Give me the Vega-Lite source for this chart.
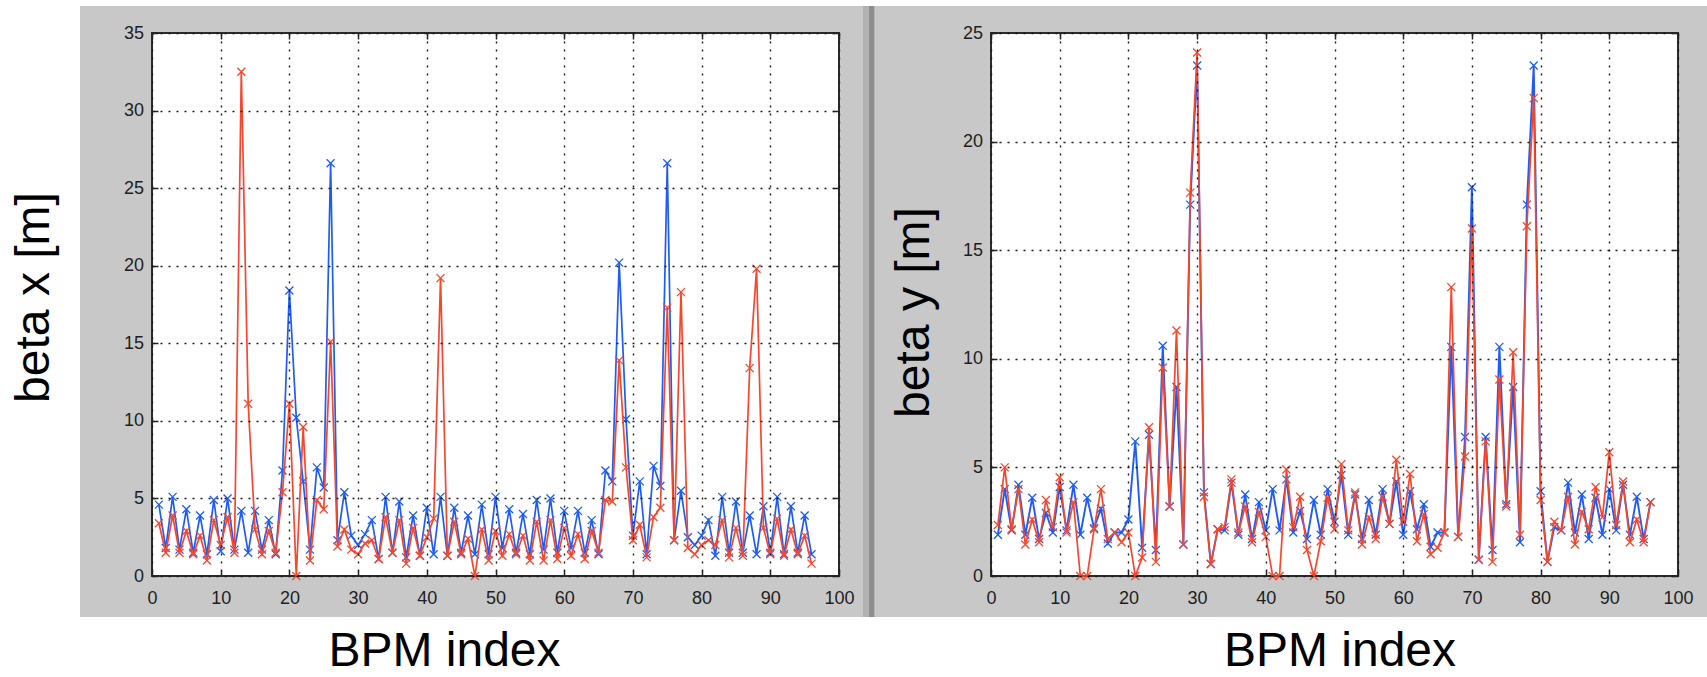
{
  "$schema": "https://vega.github.io/schema/vega-lite/v6.json",
  "autosize": "none",
  "padding": {"left": 152, "top": 33, "right": 1555, "bottom": 644},
  "background": "white",
  "bounds": "flush",
  "spacing": 152,
  "datasets": {
    "bpm": [
      {"i":1,"bx_b":4.6,"bx_r":3.4,"by_b":1.9,"by_r":2.35},
      {"i":2,"bx_b":1.8,"bx_r":1.5,"by_b":4.0,"by_r":5.0},
      {"i":3,"bx_b":5.1,"bx_r":3.9,"by_b":2.1,"by_r":2.15},
      {"i":4,"bx_b":1.7,"bx_r":1.5,"by_b":4.2,"by_r":4.0},
      {"i":5,"bx_b":4.3,"bx_r":2.9,"by_b":1.9,"by_r":1.45},
      {"i":6,"bx_b":1.5,"bx_r":1.4,"by_b":3.6,"by_r":2.6},
      {"i":7,"bx_b":3.9,"bx_r":2.6,"by_b":1.7,"by_r":1.55},
      {"i":8,"bx_b":1.4,"bx_r":1.0,"by_b":2.9,"by_r":3.5},
      {"i":9,"bx_b":4.9,"bx_r":3.6,"by_b":2.0,"by_r":2.25},
      {"i":10,"bx_b":1.6,"bx_r":2.0,"by_b":4.1,"by_r":4.55},
      {"i":11,"bx_b":5.0,"bx_r":3.8,"by_b":2.1,"by_r":2.0},
      {"i":12,"bx_b":1.7,"bx_r":1.5,"by_b":4.2,"by_r":3.4},
      {"i":13,"bx_b":4.2,"bx_r":32.5,"by_b":1.9,"by_r":0.0},
      {"i":14,"bx_b":1.5,"bx_r":11.1,"by_b":3.6,"by_r":0.0},
      {"i":15,"bx_b":4.2,"bx_r":3.0,"by_b":2.2,"by_r":2.15},
      {"i":16,"bx_b":1.7,"bx_r":1.4,"by_b":3.1,"by_r":4.0},
      {"i":17,"bx_b":3.6,"bx_r":2.9,"by_b":1.5,"by_r":1.7},
      {"i":18,"bx_b":1.4,"bx_r":1.5,"by_b":2.0,"by_r":2.0},
      {"i":19,"bx_b":6.8,"bx_r":5.4,"by_b":2.0,"by_r":1.55},
      {"i":20,"bx_b":18.4,"bx_r":11.1,"by_b":2.6,"by_r":2.0},
      {"i":21,"bx_b":10.2,"bx_r":0.0,"by_b":6.2,"by_r":0.0},
      {"i":22,"bx_b":6.1,"bx_r":9.6,"by_b":1.3,"by_r":0.85},
      {"i":23,"bx_b":1.7,"bx_r":1.0,"by_b":6.5,"by_r":6.85},
      {"i":24,"bx_b":7.0,"bx_r":4.9,"by_b":1.2,"by_r":0.65},
      {"i":25,"bx_b":5.7,"bx_r":4.3,"by_b":10.6,"by_r":9.6},
      {"i":26,"bx_b":26.6,"bx_r":15.1,"by_b":3.2,"by_r":3.2},
      {"i":27,"bx_b":2.3,"bx_r":1.9,"by_b":8.7,"by_r":11.3},
      {"i":28,"bx_b":5.4,"bx_r":3.0,"by_b":1.45,"by_r":1.45},
      {"i":29,"bx_b":2.6,"bx_r":1.7,"by_b":17.1,"by_r":17.65},
      {"i":30,"bx_b":2.0,"bx_r":1.4,"by_b":23.5,"by_r":24.1},
      {"i":31,"bx_b":2.7,"bx_r":2.1,"by_b":3.85,"by_r":3.65},
      {"i":32,"bx_b":3.6,"bx_r":2.3,"by_b":0.55,"by_r":0.55},
      {"i":33,"bx_b":1.1,"bx_r":1.1,"by_b":2.15,"by_r":2.15},
      {"i":34,"bx_b":5.1,"bx_r":3.8,"by_b":2.1,"by_r":2.25},
      {"i":35,"bx_b":1.5,"bx_r":1.5,"by_b":4.3,"by_r":4.45},
      {"i":36,"bx_b":4.8,"bx_r":3.6,"by_b":1.9,"by_r":2.0},
      {"i":37,"bx_b":1.2,"bx_r":0.8,"by_b":3.75,"by_r":3.2},
      {"i":38,"bx_b":3.9,"bx_r":3.1,"by_b":1.7,"by_r":1.55},
      {"i":39,"bx_b":1.3,"bx_r":1.3,"by_b":3.4,"by_r":2.95},
      {"i":40,"bx_b":4.4,"bx_r":2.5,"by_b":2.1,"by_r":1.8},
      {"i":41,"bx_b":1.4,"bx_r":3.7,"by_b":4.0,"by_r":0.0},
      {"i":42,"bx_b":5.1,"bx_r":19.2,"by_b":2.1,"by_r":0.0},
      {"i":43,"bx_b":1.3,"bx_r":1.3,"by_b":4.45,"by_r":4.9},
      {"i":44,"bx_b":4.4,"bx_r":3.5,"by_b":2.0,"by_r":2.25},
      {"i":45,"bx_b":1.5,"bx_r":1.4,"by_b":3.0,"by_r":3.65},
      {"i":46,"bx_b":3.9,"bx_r":2.4,"by_b":1.7,"by_r":1.2},
      {"i":47,"bx_b":1.4,"bx_r":0.0,"by_b":3.5,"by_r":0.0},
      {"i":48,"bx_b":4.6,"bx_r":3.0,"by_b":1.9,"by_r":1.6},
      {"i":49,"bx_b":1.4,"bx_r":1.0,"by_b":4.0,"by_r":3.6},
      {"i":50,"bx_b":5.1,"bx_r":2.9,"by_b":2.5,"by_r":2.15},
      {"i":51,"bx_b":1.8,"bx_r":1.3,"by_b":4.65,"by_r":5.15},
      {"i":52,"bx_b":4.3,"bx_r":2.7,"by_b":1.9,"by_r":2.1},
      {"i":53,"bx_b":1.5,"bx_r":1.4,"by_b":3.75,"by_r":3.85},
      {"i":54,"bx_b":4.0,"bx_r":2.6,"by_b":1.7,"by_r":1.45},
      {"i":55,"bx_b":1.4,"bx_r":1.0,"by_b":3.5,"by_r":2.7},
      {"i":56,"bx_b":4.9,"bx_r":3.5,"by_b":1.9,"by_r":1.7},
      {"i":57,"bx_b":1.7,"bx_r":1.0,"by_b":4.0,"by_r":3.65},
      {"i":58,"bx_b":5.0,"bx_r":3.6,"by_b":2.4,"by_r":2.4},
      {"i":59,"bx_b":1.5,"bx_r":1.1,"by_b":4.35,"by_r":5.35},
      {"i":60,"bx_b":4.2,"bx_r":3.1,"by_b":1.9,"by_r":2.5},
      {"i":61,"bx_b":1.8,"bx_r":1.3,"by_b":3.9,"by_r":4.7},
      {"i":62,"bx_b":4.2,"bx_r":2.7,"by_b":2.15,"by_r":1.6},
      {"i":63,"bx_b":1.5,"bx_r":1.1,"by_b":3.3,"by_r":2.85},
      {"i":64,"bx_b":3.6,"bx_r":2.9,"by_b":1.35,"by_r":1.0},
      {"i":65,"bx_b":1.4,"bx_r":1.5,"by_b":2.0,"by_r":1.3},
      {"i":66,"bx_b":6.8,"bx_r":4.9,"by_b":2.0,"by_r":2.0},
      {"i":67,"bx_b":6.1,"bx_r":4.8,"by_b":10.55,"by_r":13.3},
      {"i":68,"bx_b":20.2,"bx_r":13.9,"by_b":1.8,"by_r":1.8},
      {"i":69,"bx_b":10.1,"bx_r":7.0,"by_b":6.4,"by_r":5.5},
      {"i":70,"bx_b":2.6,"bx_r":2.3,"by_b":17.9,"by_r":16.0},
      {"i":71,"bx_b":6.1,"bx_r":3.3,"by_b":0.75,"by_r":0.75},
      {"i":72,"bx_b":1.4,"bx_r":1.2,"by_b":6.4,"by_r":6.2},
      {"i":73,"bx_b":7.1,"bx_r":3.8,"by_b":1.2,"by_r":0.65},
      {"i":74,"bx_b":5.8,"bx_r":4.4,"by_b":10.55,"by_r":9.05},
      {"i":75,"bx_b":26.6,"bx_r":17.3,"by_b":3.3,"by_r":3.2},
      {"i":76,"bx_b":2.3,"bx_r":2.3,"by_b":8.7,"by_r":10.3},
      {"i":77,"bx_b":5.5,"bx_r":18.3,"by_b":1.55,"by_r":1.9},
      {"i":78,"bx_b":2.5,"bx_r":1.8,"by_b":17.1,"by_r":16.1},
      {"i":79,"bx_b":2.0,"bx_r":1.4,"by_b":23.5,"by_r":22.0},
      {"i":80,"bx_b":2.6,"bx_r":2.0,"by_b":3.9,"by_r":3.5},
      {"i":81,"bx_b":3.6,"bx_r":2.3,"by_b":0.65,"by_r":0.65},
      {"i":82,"bx_b":1.3,"bx_r":2.0,"by_b":2.25,"by_r":2.5},
      {"i":83,"bx_b":5.1,"bx_r":3.6,"by_b":2.1,"by_r":2.1},
      {"i":84,"bx_b":1.5,"bx_r":1.2,"by_b":4.3,"by_r":3.65},
      {"i":85,"bx_b":4.8,"bx_r":3.1,"by_b":2.0,"by_r":1.45},
      {"i":86,"bx_b":1.5,"bx_r":1.3,"by_b":3.75,"by_r":2.95},
      {"i":87,"bx_b":3.9,"bx_r":13.4,"by_b":1.7,"by_r":2.15},
      {"i":88,"bx_b":1.4,"bx_r":19.8,"by_b":3.6,"by_r":4.1},
      {"i":89,"bx_b":4.5,"bx_r":3.1,"by_b":1.9,"by_r":2.7},
      {"i":90,"bx_b":1.5,"bx_r":1.4,"by_b":4.0,"by_r":5.7},
      {"i":91,"bx_b":5.1,"bx_r":3.7,"by_b":2.1,"by_r":2.35},
      {"i":92,"bx_b":1.4,"bx_r":1.3,"by_b":4.2,"by_r":4.35},
      {"i":93,"bx_b":4.5,"bx_r":3.0,"by_b":1.9,"by_r":1.55},
      {"i":94,"bx_b":1.5,"bx_r":1.4,"by_b":3.65,"by_r":2.6},
      {"i":95,"bx_b":3.9,"bx_r":2.6,"by_b":1.7,"by_r":1.55},
      {"i":96,"bx_b":1.4,"bx_r":0.8,"by_b":3.4,"by_r":3.4}
    ]
  },
  "hconcat": [
    {
      "width": 687,
      "height": 543,
      "data": {"name": "bpm"},
      "resolve": {"axis": {"x": "independent", "y": "independent"}},
      "layer": [
        {
          "data": {"values": [{}]},
          "mark": {"type": "rect", "clip": false, "fill": "#c8c8c8"},
          "encoding": {
            "x": {"datum": -10.48, "scale": {"domain": [0, 100], "nice": false, "zero": false},
              "axis": {"title": "BPM index", "values": [0,10,20,30,40,50,60,70,80,90,100], "titleX": 292, "titleY": 89, "zindex": 2}},
            "x2": {"datum": 103.5},
            "y": {"datum": 36.74, "scale": {"domain": [0, 35], "nice": false},
              "axis": {"title": "beta x [m]", "values": [0,5,10,15,20,25,30,35], "titleX": -104, "titleY": 264, "zindex": 2}},
            "y2": {"datum": -2.64}
          }
        },
        {
          "data": {"values": [{}]},
          "mark": {"type": "rect", "clip": false, "fill": "#b2b2b2"},
          "encoding": {"x": {"datum": 103.49, "axis": null}, "x2": {"datum": 105.24}, "y": {"datum": 36.74, "axis": null}, "y2": {"datum": -2.64}}
        },
        {
          "data": {"values": [{}]},
          "mark": {"type": "rect", "clip": false, "fill": "#8e8e8e"},
          "encoding": {"x": {"datum": 104.37, "axis": null}, "x2": {"datum": 105.09}, "y": {"datum": 36.74, "axis": null}, "y2": {"datum": -2.64}}
        },
        {
          "data": {"values": [{}]},
          "mark": {"type": "rect", "clip": false, "fill": "white", "stroke": "#2a2a2a", "strokeWidth": 2},
          "encoding": {
            "x": {"datum": 0, "axis": {"orient": "top", "title": null, "labels": false, "grid": false, "domain": false, "values": [0,10,20,30,40,50,60,70,80,90,100], "zindex": 2}},
            "x2": {"datum": 100},
            "y": {"datum": 0, "axis": {"orient": "right", "title": null, "labels": false, "grid": false, "domain": false, "values": [0,5,10,15,20,25,30,35], "zindex": 2}},
            "y2": {"datum": 35}
          }
        },
        {
          "mark": {"type": "line", "color": "#1d5cf5", "strokeWidth": 1.7},
          "encoding": {
            "x": {"field": "i", "type": "quantitative", "axis": null},
            "y": {"field": "bx_b", "type": "quantitative", "axis": null}
          }
        },
        {
          "mark": {"type": "point", "shape": "M-1,-1L1,1M-1,1L1,-1", "filled": false, "size": 64, "strokeWidth": 1.3, "color": "#1d5cf5", "opacity": 1},
          "encoding": {"x": {"field": "i", "type": "quantitative", "axis": null}, "y": {"field": "bx_b", "type": "quantitative", "axis": null}}
        },
        {
          "mark": {"type": "line", "color": "#f6472d", "strokeWidth": 1.7},
          "encoding": {"x": {"field": "i", "type": "quantitative", "axis": null}, "y": {"field": "bx_r", "type": "quantitative", "axis": null}}
        },
        {
          "mark": {"type": "point", "shape": "M-1,-1L1,1M-1,1L1,-1", "filled": false, "size": 64, "strokeWidth": 1.3, "color": "#f6472d", "opacity": 1},
          "encoding": {"x": {"field": "i", "type": "quantitative", "axis": null}, "y": {"field": "bx_r", "type": "quantitative", "axis": null}}
        }
      ]
    },
    {
      "width": 687,
      "height": 543,
      "data": {"name": "bpm"},
      "resolve": {"axis": {"x": "independent", "y": "independent"}},
      "layer": [
        {
          "data": {"values": [{}]},
          "mark": {"type": "rect", "clip": false, "fill": "#c8c8c8"},
          "encoding": {
            "x": {"datum": -16.88, "scale": {"domain": [0, 100], "nice": false, "zero": false},
              "axis": {"title": "BPM index", "values": [0,10,20,30,40,50,60,70,80,90,100], "titleX": 348.5, "titleY": 89, "zindex": 2}},
            "x2": {"datum": 105.5},
            "y": {"datum": 26.243, "scale": {"domain": [0, 25], "nice": false},
              "axis": {"title": "beta y [m]", "values": [0,5,10,15,20,25], "titleX": -63, "titleY": 279, "zindex": 2}},
            "y2": {"datum": -1.888}
          }
        },
        {
          "data": {"values": [{}]},
          "mark": {"type": "rect", "clip": false, "fill": "white", "stroke": "#2a2a2a", "strokeWidth": 2},
          "encoding": {
            "x": {"datum": 0, "axis": {"orient": "top", "title": null, "labels": false, "grid": false, "domain": false, "values": [0,10,20,30,40,50,60,70,80,90,100], "zindex": 2}},
            "x2": {"datum": 100},
            "y": {"datum": 0, "axis": {"orient": "right", "title": null, "labels": false, "grid": false, "domain": false, "values": [0,5,10,15,20,25], "zindex": 2}},
            "y2": {"datum": 25}
          }
        },
        {
          "mark": {"type": "line", "color": "#1d5cf5", "strokeWidth": 1.9},
          "encoding": {
            "x": {"field": "i", "type": "quantitative", "axis": null},
            "y": {"field": "by_b", "type": "quantitative", "axis": null}
          }
        },
        {
          "mark": {"type": "point", "shape": "M-1,-1L1,1M-1,1L1,-1", "filled": false, "size": 64, "strokeWidth": 1.3, "color": "#1d5cf5", "opacity": 1},
          "encoding": {"x": {"field": "i", "type": "quantitative", "axis": null}, "y": {"field": "by_b", "type": "quantitative", "axis": null}}
        },
        {
          "mark": {"type": "line", "color": "#f6472d", "strokeWidth": 1.7},
          "encoding": {"x": {"field": "i", "type": "quantitative", "axis": null}, "y": {"field": "by_r", "type": "quantitative", "axis": null}}
        },
        {
          "mark": {"type": "point", "shape": "M-1,-1L1,1M-1,1L1,-1", "filled": false, "size": 64, "strokeWidth": 1.3, "color": "#f6472d", "opacity": 1},
          "encoding": {"x": {"field": "i", "type": "quantitative", "axis": null}, "y": {"field": "by_r", "type": "quantitative", "axis": null}}
        }
      ]
    }
  ],
  "config": {
    "view": {"stroke": null, "fill": null},
    "font": "Liberation Sans",
    "axis": {
      "grid": true,
      "gridColor": "#1a1a1a",
      "gridDash": [2, 6],
      "gridWidth": 1.4,
      "domain": false,
      "ticks": true,
      "tickSize": -6,
      "tickColor": "#222222",
      "tickWidth": 1.5,
      "labelFont": "Liberation Sans",
      "labelFontSize": 18,
      "labelColor": "#1e1e1e",
      "labelFlush": false,
      "labelOverlap": false,
      "titleFont": "Liberation Sans",
      "titleFontSize": 48,
      "titleFontWeight": "normal",
      "titleColor": "#000000",
      "titleAlign": "center",
      "titleBaseline": "alphabetic"
    },
    "axisX": {"labelPadding": 19},
    "axisY": {"labelPadding": 14.5}
  }
}
